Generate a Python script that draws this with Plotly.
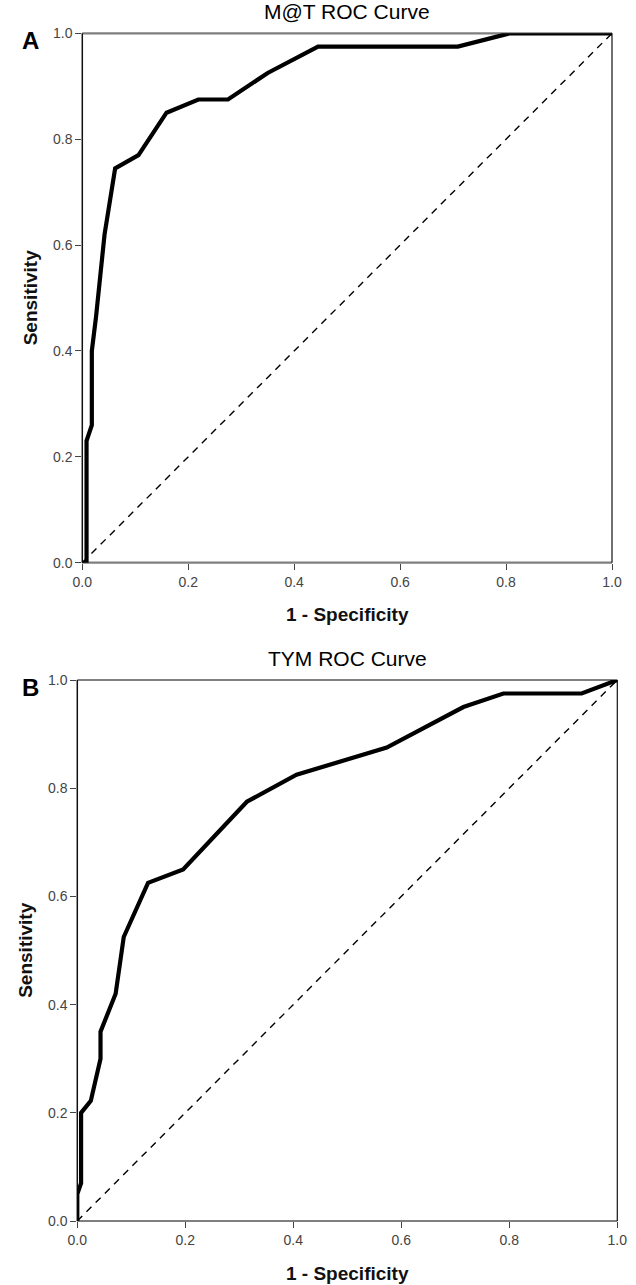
import plotly.graph_objects as go

# Panel A: M@T ROC curve
mat_fpr = [0.0, 0.008, 0.008, 0.018, 0.018, 0.026, 0.042, 0.062, 0.106, 0.159, 0.219, 0.275, 0.35, 0.445, 0.709, 0.807, 1.0]
mat_tpr = [0.0, 0.0, 0.23, 0.26, 0.40, 0.465, 0.62, 0.745, 0.77, 0.85, 0.875, 0.875, 0.925, 0.975, 0.975, 1.0, 1.0]

# Panel B: TYM ROC curve
tym_fpr = [0.0, 0.0, 0.007, 0.007, 0.025, 0.037, 0.043, 0.043, 0.071, 0.086, 0.131, 0.196, 0.314, 0.406, 0.49, 0.573, 0.715, 0.789, 0.934, 1.0]
tym_tpr = [0.0, 0.05, 0.07, 0.2, 0.222, 0.27, 0.30, 0.35, 0.42, 0.525, 0.625, 0.65, 0.775, 0.825, 0.85, 0.875, 0.95, 0.975, 0.975, 1.0]

ref_line = [0.0, 1.0]
tick_vals = [0.0, 0.2, 0.4, 0.6, 0.8, 1.0]
tick_text = ["0.0", "0.2", "0.4", "0.6", "0.8", "1.0"]

titles = ["M@T ROC Curve", "TYM ROC Curve"]
panel_letters = ["A", "B"]

W, H = 636, 1285
FONT = "Liberation Sans, Arial, sans-serif"

fig = go.Figure()

# domains in pixels (left, right, top, bottom)
panels = [
    (82.3, 612.0, 33.3, 562.7),
    (77.3, 617.3, 680.0, 1221.0),
]
curves = [(mat_fpr, mat_tpr), (tym_fpr, tym_tpr)]

for i, ((l, r, t, b), (fx, fy)) in enumerate(zip(panels, curves)):
    xa = "x" if i == 0 else "x2"
    ya = "y" if i == 0 else "y2"
    fig.add_trace(go.Scatter(x=ref_line, y=ref_line, mode="lines", xaxis=xa, yaxis=ya,
                             line=dict(color="black", width=1.4, dash="7px,6px"),
                             showlegend=False, hoverinfo="skip"))
    fig.add_trace(go.Scatter(x=fx, y=fy, mode="lines", xaxis=xa, yaxis=ya,
                             line=dict(color="black", width=4.2),
                             cliponaxis=False, showlegend=False))
    axis_common = dict(range=[0, 1], tickvals=tick_vals, ticktext=tick_text,
                       ticks="outside", ticklen=6, tickwidth=1, tickcolor="#444",
                       showgrid=False, zeroline=False, showline=False, automargin=False,
                       tickfont=dict(family=FONT, size=14, color="#444"))
    xd = [l / W, r / W]
    yd = [1 - b / H, 1 - t / H]
    fig.update_layout(**{
        ("xaxis" if i == 0 else "xaxis2"): dict(domain=xd, anchor=ya, **axis_common),
        ("yaxis" if i == 0 else "yaxis2"): dict(domain=yd, anchor=xa, **axis_common),
    })
    # frame
    dref = dict(xref=f"{xa} domain", yref=f"{ya} domain")
    fig.add_shape(type="line", x0=0, x1=1, y0=1, y1=1, line=dict(color="#7f7f7f", width=2.2), layer="below", **dref)
    fig.add_shape(type="line", x0=0, x1=1, y0=0, y1=0, line=dict(color="#7f7f7f", width=2.2), layer="below", **dref)
    fig.add_shape(type="line", x0=0, x1=0, y0=0, y1=1, line=dict(color="#111", width=1.5), layer="below", **dref)
    fig.add_shape(type="line", x0=1, x1=1, y0=0, y1=1, line=dict(color="#111", width=1.2), layer="below", **dref)

    # title
    fig.add_annotation(text=titles[i], xref="paper", yref="paper",
                       x=(l + r) / 2 / W, y=1 - (t - 22) / H, showarrow=False,
                       xanchor="center", yanchor="middle",
                       font=dict(family=FONT, size=21, color="#000"))
    # panel letter
    fig.add_annotation(text=f"<b>{panel_letters[i]}</b>", xref="paper", yref="paper",
                       x=30 / W, y=1 - (t + 7) / H, showarrow=False,
                       xanchor="center", yanchor="middle",
                       font=dict(family=FONT, size=24, color="#000"))
    # x axis title
    fig.add_annotation(text="<b>1 - Specificity</b>", xref="paper", yref="paper",
                       x=(l + r) / 2 / W, y=1 - (b + 52) / H, showarrow=False,
                       xanchor="center", yanchor="middle",
                       font=dict(family=FONT, size=19, color="#111"))
    # y axis title
    fig.add_annotation(text="<b>Sensitivity</b>", xref="paper", yref="paper",
                       x=(l - 52) / W, y=1 - ((t + b) / 2) / H, showarrow=False,
                       textangle=-90, xanchor="center", yanchor="middle",
                       font=dict(family=FONT, size=19, color="#111"))

fig.update_layout(width=W, height=H, margin=dict(l=0, r=0, t=0, b=0),
                  plot_bgcolor="white", paper_bgcolor="white")

fig.write_html("out.html", config={"displayModeBar": False},
               post_script="document.body.style.margin='0';document.body.style.padding='0';document.body.style.overflow='hidden';")
